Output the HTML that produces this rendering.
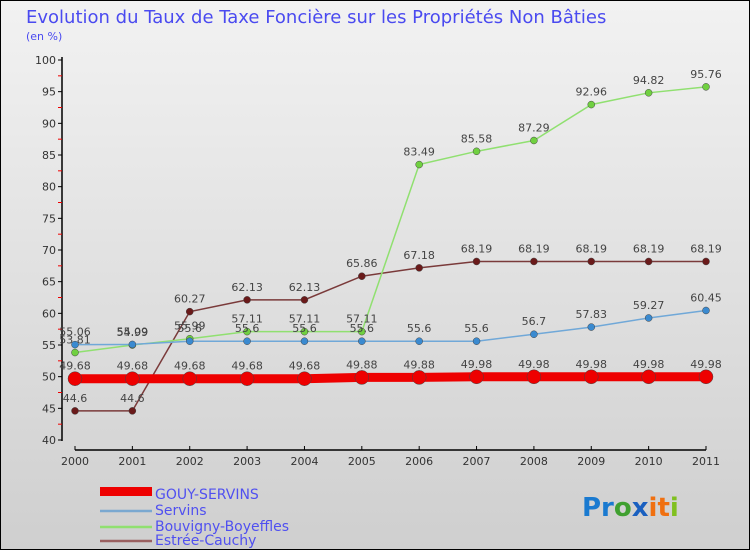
<!DOCTYPE html>
<html><head><meta charset="utf-8"><style>
body{margin:0}
#c{width:750px;height:550px;position:relative;overflow:hidden;font-family:"DejaVu Sans","Liberation Sans",sans-serif}
</style></head><body>
<div id="c">
<svg id="s" width="750" height="550" xmlns="http://www.w3.org/2000/svg">
<defs><linearGradient id="bg" x1="0" y1="0" x2="0" y2="1"><stop offset="0" stop-color="#f2f2f2"/><stop offset="1" stop-color="#cfcfcf"/></linearGradient></defs>
<rect x="0.5" y="0.5" width="749" height="549" fill="url(#bg)" stroke="#000"/>
<text x="26" y="23" font-size="18" fill="#4a4af0">Evolution du Taux de Taxe Foncière sur les Propriétés Non Bâties</text>
<text x="26" y="40" font-size="11" fill="#4a4af0">(en %)</text>
<g id="axes"></g><g id="marks"></g>
<g>
<rect x="100" y="487" width="52" height="9" fill="#e00"/>
<text x="155" y="499" font-size="14" fill="#5050f0">GOUY-SERVINS</text>
<line x1="100" y1="511" x2="152" y2="511" stroke="#7aa8d0" stroke-width="2.5"/>
<text x="155" y="515" font-size="14" fill="#5050f0">Servins</text>
<line x1="100" y1="527" x2="152" y2="527" stroke="#90e070" stroke-width="2.5"/>
<text x="155" y="531" font-size="14" fill="#5050f0">Bouvigny-Boyeffles</text>
<line x1="100" y1="541" x2="152" y2="541" stroke="#9a6060" stroke-width="2.5"/>
<text x="155" y="545" font-size="14" fill="#5050f0">Estrée-Cauchy</text>
</g>
<text x="582" y="516" font-size="26" font-weight="bold"><tspan fill="#1a7ad0">Pr</tspan><tspan fill="#40a030">o</tspan><tspan fill="#1a60c0">x</tspan><tspan fill="#f07010">it</tspan><tspan fill="#80c020">i</tspan></text>
</svg></div>
<script>
const years=[2000,2001,2002,2003,2004,2005,2006,2007,2008,2009,2010,2011];
const gouy=[49.68,49.68,49.68,49.68,49.68,49.88,49.88,49.98,49.98,49.98,49.98,49.98];
const servins=[55.06,55.09,55.6,55.6,55.6,55.6,55.6,55.6,56.7,57.83,59.27,60.45];
const bouvigny=[53.81,54.99,55.99,57.11,57.11,57.11,83.49,85.58,87.29,92.96,94.82,95.76];
const estree=[44.6,44.6,60.27,62.13,62.13,65.86,67.18,68.19,68.19,68.19,68.19,68.19];
const yTicks=[40,45,50,55,60,65,70,75,80,85,90,95,100];
const NS="http://www.w3.org/2000/svg";
const X=i=>75+i*(706-75)/11, Y=v=>440-(v-40)*380/60;
function mk(t,a,p){const e=document.createElementNS(NS,t);for(const k in a)e.setAttribute(k,a[k]);p.appendChild(e);return e;}
const ax=document.getElementById('axes'),mg=document.getElementById('marks');
let l=mk('line',{x1:62,y1:57,x2:62,y2:441,stroke:'#000','stroke-width':1.5},ax);


l=mk('line',{x1:75,y1:450,x2:706,y2:450,stroke:'#000','stroke-width':1.5},ax);


yTicks.forEach((v,i)=>{mk('line',{x1:58,y1:Y(v),x2:62,y2:Y(v),stroke:'#000'},ax);
 if(i<yTicks.length-1)mk('line',{x1:58,y1:Y(v+2.5),x2:62,y2:Y(v+2.5),stroke:'#e00'},ax);
 const t=mk('text',{x:56,y:Y(v)+4,'font-size':11,'text-anchor':'end',fill:'#333'},ax);t.textContent=v;
 
 });
years.forEach((y,i)=>{mk('line',{x1:X(i),y1:446,x2:X(i),y2:450,stroke:'#000'},ax);
 const t=mk('text',{x:X(i),y:465,'font-size':11,'text-anchor':'middle',fill:'#333'},ax);t.textContent=y;
 
 });
function series(d,name,col,dot,w,r){
 const g=mk('g',{},mg);
 
 
 mk('polyline',{points:d.map((v,i)=>X(i)+','+Y(v)).join(' '),fill:'none',stroke:col,'stroke-width':w},g);
 d.forEach((v,i)=>{const c=mk('circle',{cx:X(i),cy:Y(v),r:r,fill:dot,stroke:'#444','stroke-width':0.5},g);
  
  
  const t=mk('text',{x:X(i),y:Y(v)-9,'font-size':11,'text-anchor':'middle',fill:'#444'},g);t.textContent=v;});
}
series(estree,'estree','#7a3a3a','#6a1a1a',1.5,3.5);
series(bouvigny,'bouvigny','#90e070','#70d040',1.5,3.5);
series(servins,'servins','#70a8d8','#3a8ad0',1.5,3.5);
series(gouy,'gouy','#e00','#e00',9,7);
</script></body></html>
